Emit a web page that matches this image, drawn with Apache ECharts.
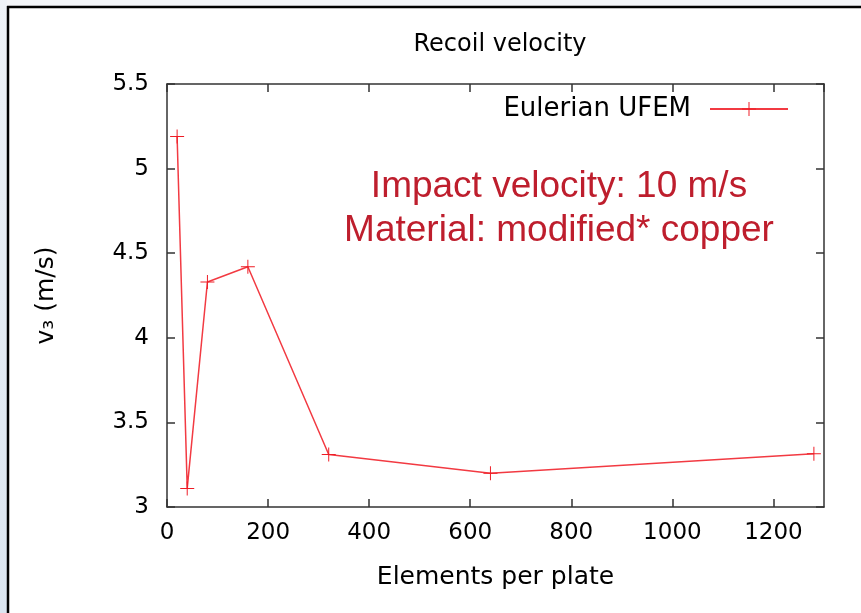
<!DOCTYPE html>
<html>
<head>
<meta charset="utf-8">
<script src="https://cdn.jsdelivr.net/npm/echarts@6/dist/echarts.min.js"></script>
<style>
  html, body { margin: 0; padding: 0; background: #fff; }
  #chart { width: 861px; height: 613px; }
</style>
</head>
<body>
<div id="chart"></div>
<script>
// Recoil velocity versus mesh refinement
const elementsPerPlate = [20, 40, 80, 160, 320, 640, 1280];
const recoilVelocity = [5.19, 3.11, 4.33, 4.42, 3.31, 3.20, 3.315];
const seriesName = 'Eulerian UFEM';
const chartTitle = 'Recoil velocity';
const xAxisTitle = 'Elements per plate';
const yAxisTitle = 'v\u2083 (m/s)';
const noteLines = ['Impact velocity: 10 m/s', 'Material: modified* copper'];

const plotFont = '"DejaVu Sans", sans-serif';
const axisColor = '#333';
const lineRed = '#f23a42';
const markRed = '#ee1c25';
const plusPath = 'path://M0,9.3H20V10.7H0Z M9.3,0H10.7V20H9.3Z';

const points = elementsPerPlate.map((x, i) => [x, recoilVelocity[i]]);

const xBase = {
  type: 'value', min: 0, max: 1300, interval: 200,
  axisLine: { show: true, onZero: false, lineStyle: { color: axisColor, width: 1.5 } },
  axisTick: { show: true, inside: true, length: 8, lineStyle: { color: axisColor, width: 1.5 } },
  splitLine: { show: false }
};
const yBase = {
  type: 'value', min: 3, max: 5.5, interval: 0.5,
  axisLine: { show: true, onZero: false, lineStyle: { color: axisColor, width: 1.5 } },
  axisTick: { show: true, inside: true, length: 8, lineStyle: { color: axisColor, width: 1.5 } },
  splitLine: { show: false }
};

const chart = echarts.init(document.getElementById('chart'), null, { renderer: 'canvas' });
chart.setOption({
  animation: false,
  backgroundColor: '#fff',
  title: {
    text: chartTitle,
    left: 495, top: 28, textAlign: 'center',
    textStyle: { fontFamily: plotFont, fontSize: 24, fontWeight: 'normal', color: '#000' }
  },
  legend: {
    data: [seriesName],
    right: 67, top: 91,
    align: 'right',
    itemWidth: 78, itemHeight: 17.5,
    textStyle: { fontFamily: plotFont, fontSize: 26, color: '#000', padding: [0, 14, 0, 0] }
  },
  grid: { left: 167, top: 84, right: 37, bottom: 106, containLabel: false },
  xAxis: [
    Object.assign({}, xBase, {
      position: 'bottom',
      name: xAxisTitle, nameLocation: 'middle', nameGap: 58,
      nameTextStyle: { fontFamily: plotFont, fontSize: 25, color: '#000' },
      axisLabel: { margin: 15, fontFamily: plotFont, fontSize: 23, color: '#000',
                   formatter: v => String(v) }
    }),
    Object.assign({}, xBase, { position: 'top', axisLabel: { show: false } })
  ],
  yAxis: [
    Object.assign({}, yBase, {
      position: 'left',
      name: yAxisTitle, nameLocation: 'middle', nameGap: 108, nameRotate: 90,
      nameTextStyle: { fontFamily: plotFont, fontSize: 25, color: '#000' },
      axisLabel: { margin: 18, fontFamily: plotFont, fontSize: 23, color: '#000' }
    }),
    Object.assign({}, yBase, { position: 'right', axisLabel: { show: false } })
  ],
  series: [{
    name: seriesName,
    type: 'line',
    xAxisIndex: 0, yAxisIndex: 0,
    data: points,
    symbol: plusPath,
    symbolSize: 14,
    showAllSymbol: true,
    lineStyle: { color: lineRed, width: 1.5 },
    itemStyle: { color: markRed },
    emphasis: { disabled: true }
  }],
  graphic: [
    {
      type: 'rect', z: -10, silent: true,
      shape: { x: 0, y: 0, width: 7, height: 613 },
      style: { fill: new echarts.graphic.LinearGradient(0, 0, 0, 1, [
        { offset: 0, color: '#eef2f7' }, { offset: 1, color: '#dbe5f0' }
      ]) }
    },
    {
      type: 'rect', z: -10, silent: true,
      shape: { x: 7, y: 0, width: 854, height: 6 },
      style: { fill: '#f3f5f8' }
    },
    {
      type: 'line', silent: true,
      shape: { x1: 7, y1: 7, x2: 861, y2: 7 },
      style: { stroke: '#000', lineWidth: 2.5 }
    },
    {
      type: 'line', silent: true,
      shape: { x1: 8, y1: 6, x2: 8, y2: 613 },
      style: { stroke: '#000', lineWidth: 2.5 }
    },
    {
      type: 'text', silent: true,
      x: 559, y: 209,
      style: {
        text: noteLines.join('\n'),
        font: '37px "Liberation Sans", Arial, sans-serif',
        fill: '#be1e2d',
        align: 'center', verticalAlign: 'middle',
        lineHeight: 44
      }
    }
  ]
});
</script>
</body>
</html>
